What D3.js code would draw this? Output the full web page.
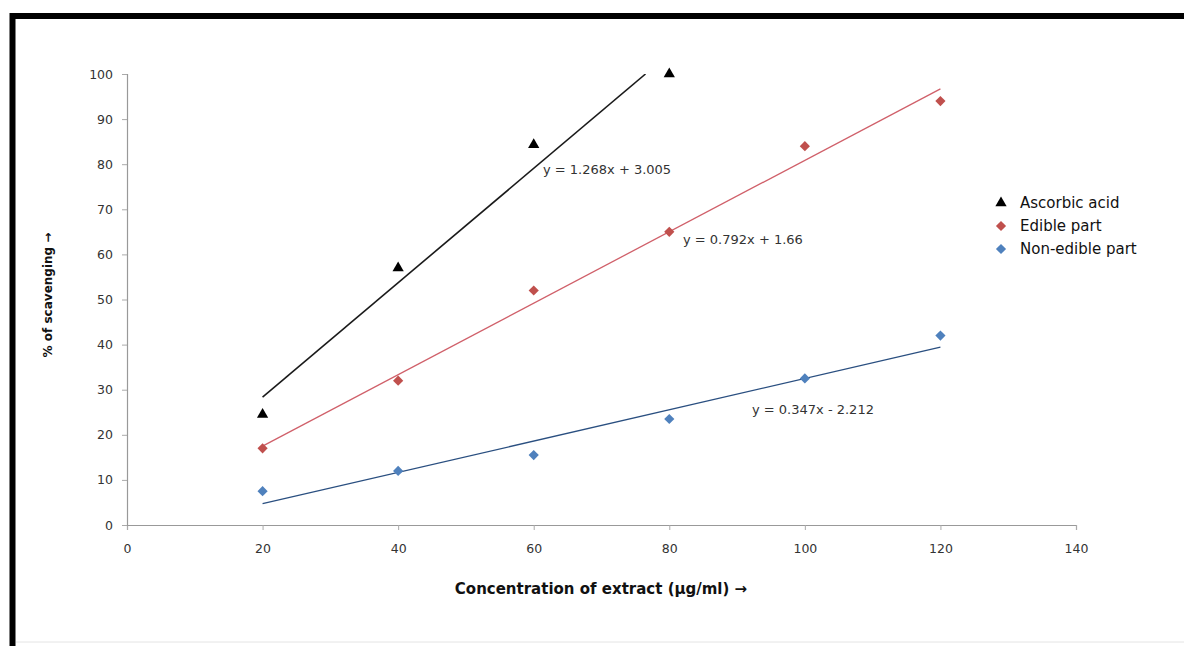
<!DOCTYPE html>
<html><head><meta charset="utf-8">
<script src="https://cdn.jsdelivr.net/npm/d3@7"></script>
<style>body{margin:0;background:#fff}svg{display:block}</style>
</head><body>
<script>
const concentrations = [20, 40, 60, 80, 100, 120];
const ascorbicX = [20, 40, 60, 80];
const ascorbicY = [24.5, 57, 84.3, 100];
const edibleY = [17, 32, 52, 65, 84, 94];
const nonEdibleY = [7.5, 12, 15.5, 23.5, 32.5, 42];
const xTicks = [0, 20, 40, 60, 80, 100, 120, 140];
const yTicks = [0, 10, 20, 30, 40, 50, 60, 70, 80, 90, 100];
const trendAscorbic = {m: 1.268, b: 3.005, x0: 20, x1: 120, label: "y = 1.268x + 3.005"};
const trendEdible = {m: 0.792, b: 1.66, x0: 20, x1: 120, label: "y = 0.792x + 1.66"};
const trendNonEdible = {m: 0.347, b: -2.212, x0: 20, x1: 120, label: "y = 0.347x - 2.212"};
const legendLabels = ["Ascorbic acid", "Edible part", "Non-edible part"];

const W = 1184, H = 646;
const svg = d3.select("body").append("svg").attr("width", W).attr("height", H);

// frame
svg.append("rect").attr("x", 10).attr("y", 13).attr("width", W).attr("height", H).attr("fill", "none")
  .attr("stroke", "#000").attr("stroke-width", 6).attr("transform", "translate(2.5,3)");
svg.append("line").attr("x1", 16).attr("x2", W).attr("y1", 642).attr("y2", 642).attr("stroke", "#e4e4e4");

const x = d3.scaleLinear().domain([0, 140]).range([127, 1076]);
const y = d3.scaleLinear().domain([0, 100]).range([525, 74]);

const font = "'DejaVu Sans', Verdana, sans-serif";

const gx = svg.append("g").attr("transform", `translate(0,${y(0)})`)
  .call(d3.axisBottom(x).tickValues(xTicks).tickSize(5).tickPadding(14));
const gy = svg.append("g").attr("transform", `translate(${x(0)},0)`)
  .call(d3.axisLeft(y).tickValues(yTicks).tickSize(5).tickPadding(9));
[gx, gy].forEach(g => {
  g.select(".domain").attr("stroke", "#999").attr("stroke-width", 1.2);
  g.selectAll(".tick line").attr("stroke", "#aaa");
  g.selectAll(".tick text").attr("fill", "#333").style("font-family", font).style("font-size", "12.5px");
});

// clip to plot area
svg.append("clipPath").attr("id", "plot").append("rect")
  .attr("x", x(0)).attr("y", y(100)).attr("width", x(140) - x(0)).attr("height", y(0) - y(100));

function trend(t, color, w) {
  const xEnd = Math.min(t.x1, (100 - t.b) / t.m);
  svg.append("line").attr("clip-path", "url(#plot)")
    .attr("x1", x(t.x0)).attr("y1", y(t.m * t.x0 + t.b))
    .attr("x2", x(xEnd)).attr("y2", y(t.m * xEnd + t.b))
    .attr("stroke", color).attr("stroke-width", w);
}
trend(trendAscorbic, "#1a1a1a", 1.6);
trend(trendEdible, "#d0606a", 1.3);
trend(trendNonEdible, "#2a4f80", 1.3);

const tri = d3.symbol().type(d3.symbolTriangle).size(55);
const dia = d3.symbol().type(d3.symbolSquare).size(52);

svg.append("g").selectAll("path").data(ascorbicX.map((c, i) => [c, ascorbicY[i]])).join("path")
  .attr("d", tri).attr("transform", d => `translate(${x(d[0])},${y(d[1])})`).attr("fill", "#000");
svg.append("g").selectAll("path").data(concentrations.map((c, i) => [c, edibleY[i]])).join("path")
  .attr("d", dia).attr("transform", d => `translate(${x(d[0])},${y(d[1])}) rotate(45)`).attr("fill", "#c0504d");
svg.append("g").selectAll("path").data(concentrations.map((c, i) => [c, nonEdibleY[i]])).join("path")
  .attr("d", dia).attr("transform", d => `translate(${x(d[0])},${y(d[1])}) rotate(45)`).attr("fill", "#4f81bd");

// equations
[[trendAscorbic, 543, 174], [trendEdible, 683, 244], [trendNonEdible, 752, 414]].forEach(([t, px, py]) => {
  svg.append("text").attr("x", px).attr("y", py).text(t.label)
    .style("font-family", font).style("font-size", "13px").attr("fill", "#333");
});

// legend
const legColors = ["#000", "#c0504d", "#4f81bd"];
const lg = svg.append("g");
legendLabels.forEach((l, i) => {
  const ly = 203 + i * 23;
  lg.append("path").attr("d", i === 0 ? tri : dia)
    .attr("transform", `translate(1001,${ly})` + (i === 0 ? "" : " rotate(45)")).attr("fill", legColors[i]);
  lg.append("text").attr("x", 1020).attr("y", ly + 5).text(l)
    .style("font-family", font).style("font-size", "15px").attr("fill", "#111");
});

// axis titles
svg.append("text").attr("x", 601).attr("y", 594).attr("text-anchor", "middle")
  .text("Concentration of extract (µg/ml) →")
  .style("font-family", font).style("font-weight", "bold").style("font-size", "15px").attr("fill", "#111");
svg.append("text").attr("transform", "translate(52,295) rotate(-90)").attr("text-anchor", "middle")
  .text("% of scavenging →")
  .style("font-family", font).style("font-weight", "bold").style("font-size", "12px").attr("fill", "#111");
</script>
</body></html>
